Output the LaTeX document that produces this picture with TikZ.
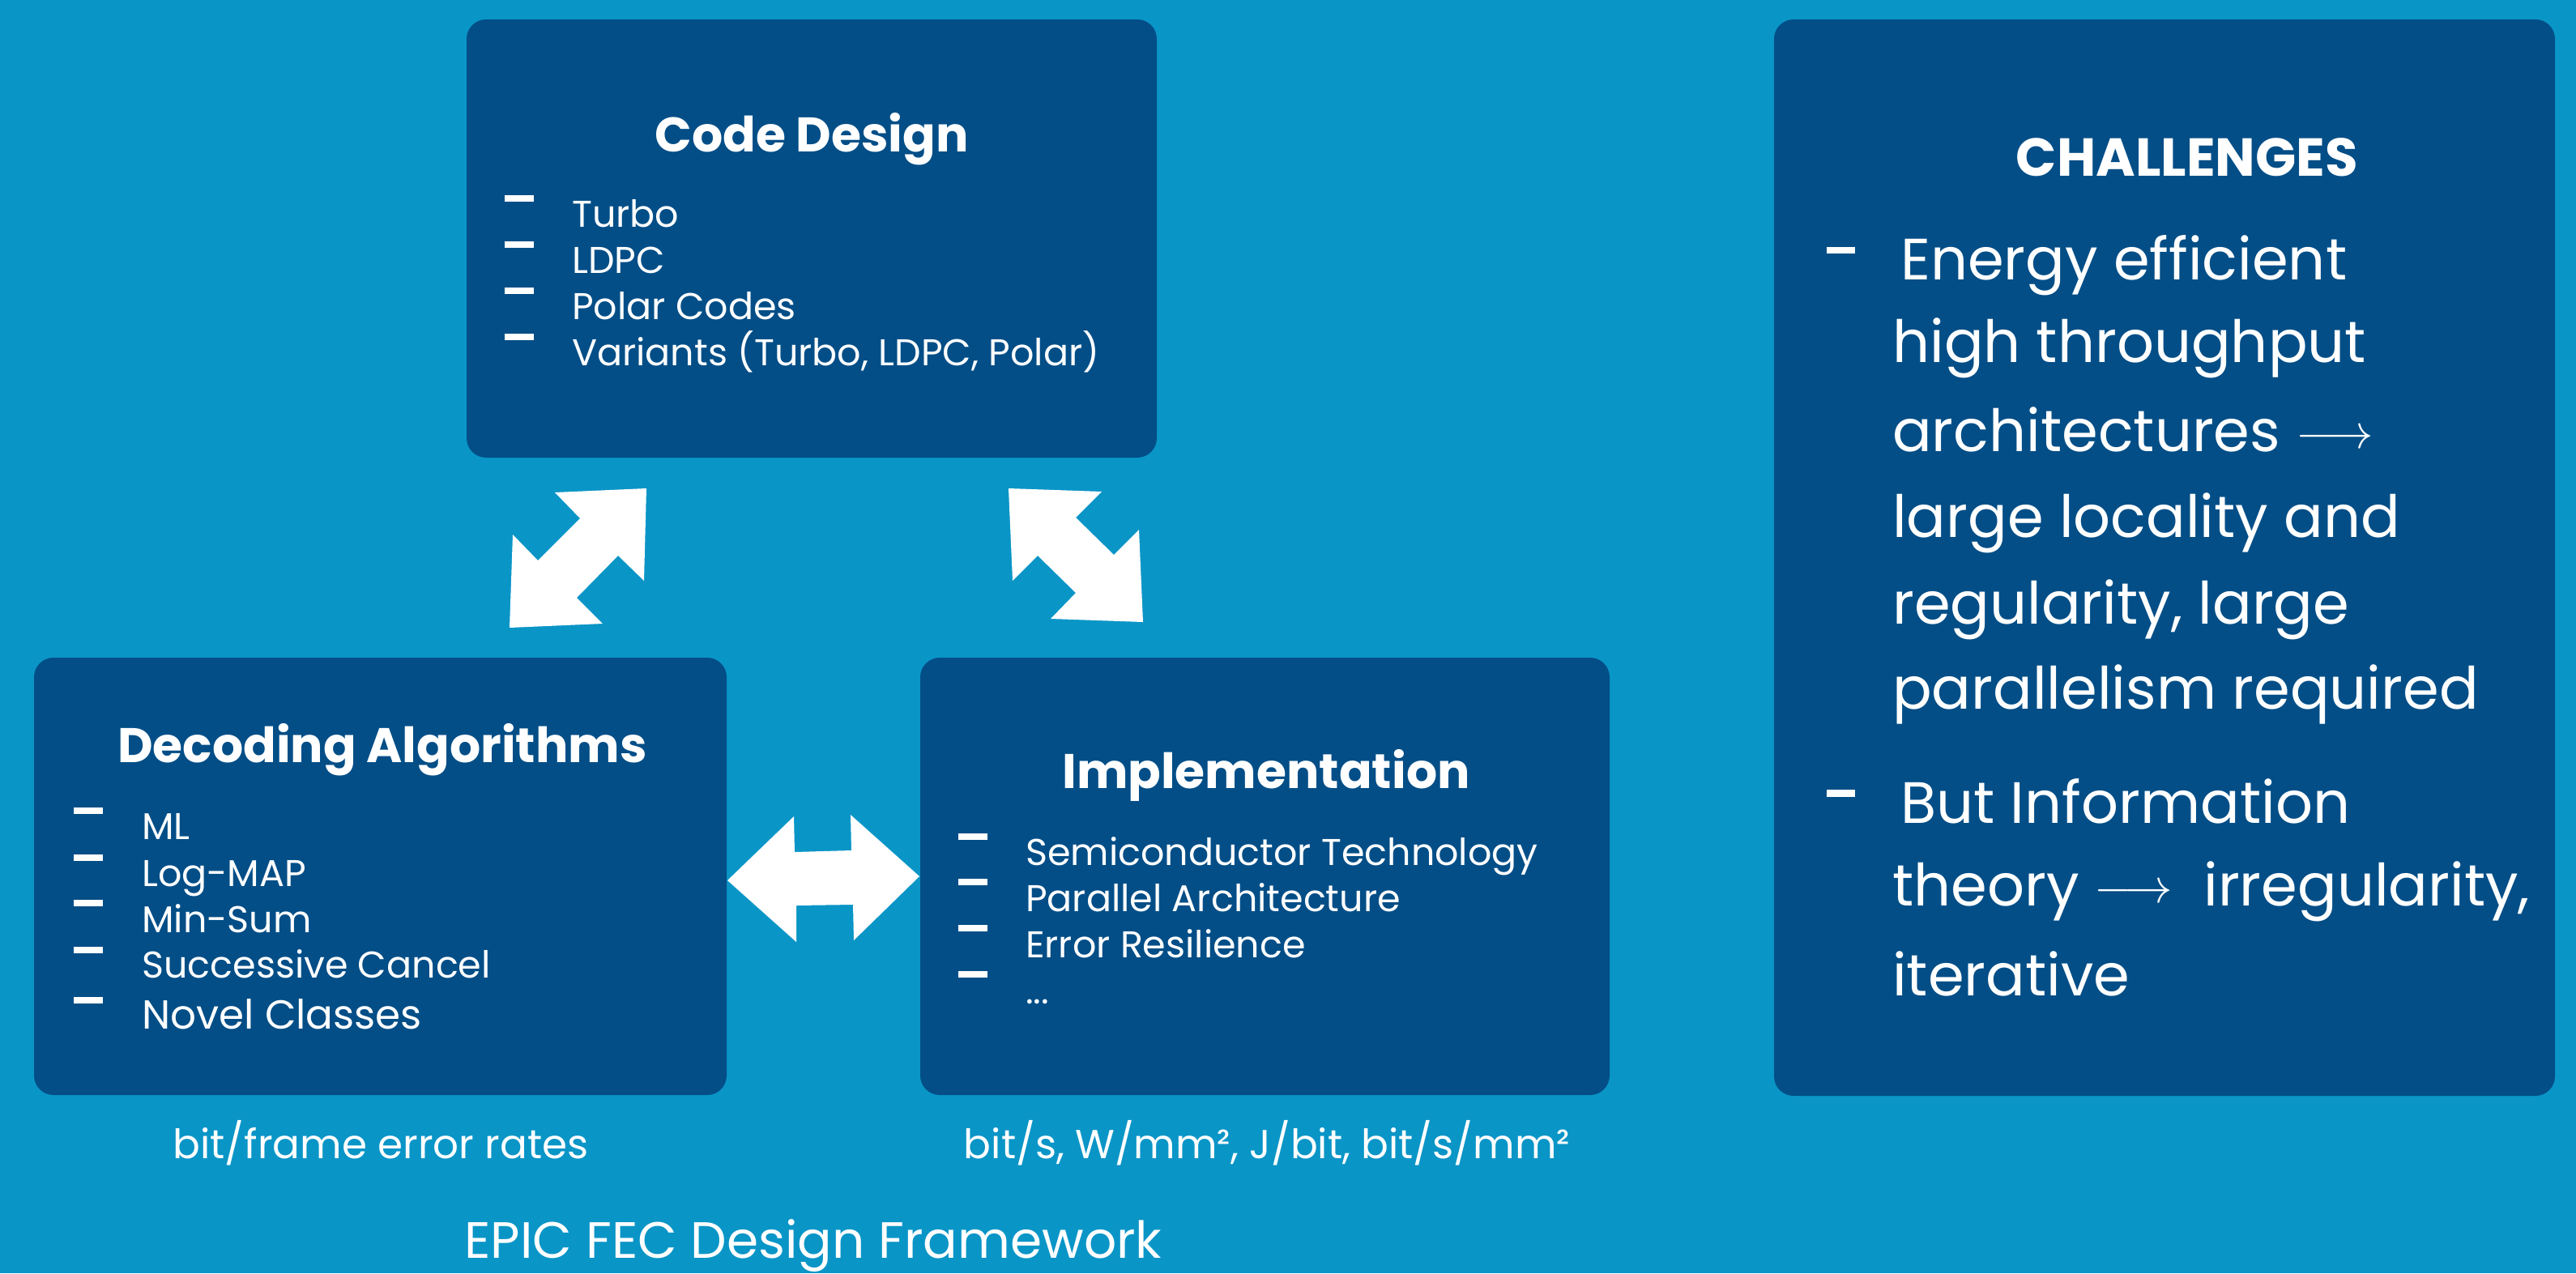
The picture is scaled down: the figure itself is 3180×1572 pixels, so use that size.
\documentclass[tikz,border=0pt]{standalone}
\usepackage{fontspec}
\setmainfont{Poppins}
\definecolor{bgblue}{HTML}{0A95C7}
\definecolor{boxblue}{HTML}{034E87}
\newcommand{\longarr}{\raisebox{4pt}{\resizebox{96pt}{!}{$\longrightarrow$}}}
\begin{document}
\begin{tikzpicture}[x=1pt,y=-1pt,
  panel/.style={fill=boxblue, draw=none, rounded corners=24pt, inner sep=0pt},
  head/.style={anchor=base, text=white, inner sep=0pt, font=\fontsize{60}{66}\selectfont\bfseries},
  bighead/.style={anchor=base, text=white, inner sep=0pt, font=\fontsize{66}{72}\selectfont\bfseries},
  item/.style={anchor=base west, text=white, inner sep=0pt, font=\fontsize{46}{54}\selectfont},
  bigitem/.style={anchor=base west, text=white, inner sep=0pt, font=\fontsize{50}{58}\selectfont},
  chal/.style={anchor=base west, text=white, inner sep=0pt, font=\fontsize{72}{80}\selectfont},
  lbl/.style={anchor=base, text=white, inner sep=0pt, font=\fontsize{50}{58}\selectfont},
  title/.style={anchor=base, text=white, inner sep=0pt, font=\fontsize{63}{70}\selectfont},
  blockarrow/.style={fill=white, draw=none}
]
\fill[bgblue] (0,0) rectangle (3180,1572);
\useasboundingbox (0,0) rectangle (3180,1572);

% panels
\node[panel, minimum width=852pt, minimum height=541pt] (code) at (1002,294.5) {};
\node[panel, minimum width=855pt, minimum height=540pt] (dec) at (469.5,1082) {};
\node[panel, minimum width=851pt, minimum height=540pt] (impl) at (1561.5,1082) {};
\node[panel, minimum width=964pt, minimum height=1329pt] (chal) at (2672,688.5) {};

% Code Design
\node[head] (codeh) at (1002,187) {Code Design};
\foreach \y in {241,298,355,412} \fill[white] (623,\y) rectangle (659,\y+8);
\node[item] (c1) at (706,280) {Turbo};
\node[item] (c2) at (706,337) {LDPC};
\node[item] (c3) at (706,394) {Polar Codes};
\node[item] (c4) at (706,451) {Variants (Turbo, LDPC, Polar)};

% Decoding Algorithms
\node[head] (dech) at (472,941) {Decoding Algorithms};
\foreach \y in {997,1055,1111,1169,1231} \fill[white] (91,\y) rectangle (127,\y+8);
\node[item] (d1) at (175,1036) {ML};
\node[item] (d2) at (175,1094) {Log-MAP};
\node[item] (d3) at (175,1151) {Min-Sum};
\node[item] (d4) at (175,1207) {Successive Cancel};
\node[bigitem] (d5) at (175,1270) {Novel Classes};

% Implementation
\node[head] (implh) at (1563,973) {Implementation};
\foreach \y in {1029,1085,1142,1199} \fill[white] (1183,\y) rectangle (1219,\y+8);
\node[item] (i1) at (1266,1068) {Semiconductor Technology};
\node[item] (i2) at (1266,1125) {Parallel Architecture};
\node[item] (i3) at (1266,1182) {Error Resilience};
\node[item] (i4) at (1266,1239) {...};

% Challenges
\node[bighead] (chalh) at (2700,217) {CHALLENGES};
\fill[white] (2255,305) rectangle (2290,313);
\fill[white] (2255,975) rectangle (2290,984);
\node[chal] (h1) at (2346,345) {Energy efficient};
\node[chal] (h2) at (2336,447) {high throughput};
\node[chal] (h3) at (2336,557) {architectures \longarr};
\node[chal] (h4) at (2336,663) {large locality and};
\node[chal] (h5) at (2336,770) {regularity, large};
\node[chal] (h6) at (2336,875) {parallelism required};
\node[chal] (h7) at (2346,1016) {But Information};
\node[chal] (h8) at (2336,1118) {theory \longarr\ \ irregularity,};
\node[chal] (h9) at (2336,1229) {iterative};

% labels
\node[lbl] (l1) at (470,1430) {bit/frame error rates};
\node[lbl] (l2) at (1564,1430) {bit/s, W/mm², J/bit, bit/s/mm²};
\node[title] (t) at (1004,1553) {EPIC FEC Design Framework};

% block arrows
\fill[blockarrow] (798,603) -- (795,717) -- (763,686) -- (712,738) -- (744,770) -- (629,775)
  -- (633,660) -- (664,692) -- (716,640) -- (685,608) -- cycle;
\fill[blockarrow] (1245,603) -- (1360,607) -- (1328,639) -- (1375,685) -- (1406,654) -- (1411,768)
  -- (1297,764) -- (1328,732) -- (1281,686) -- (1250,717) -- cycle;
\fill[blockarrow] (898,1087) -- (980,1008) -- (981,1052) -- (1051,1050) -- (1050,1006) -- (1135,1082)
  -- (1054,1161) -- (1053,1117) -- (983,1118) -- (983,1163) -- cycle;
\end{tikzpicture}
\end{document}
